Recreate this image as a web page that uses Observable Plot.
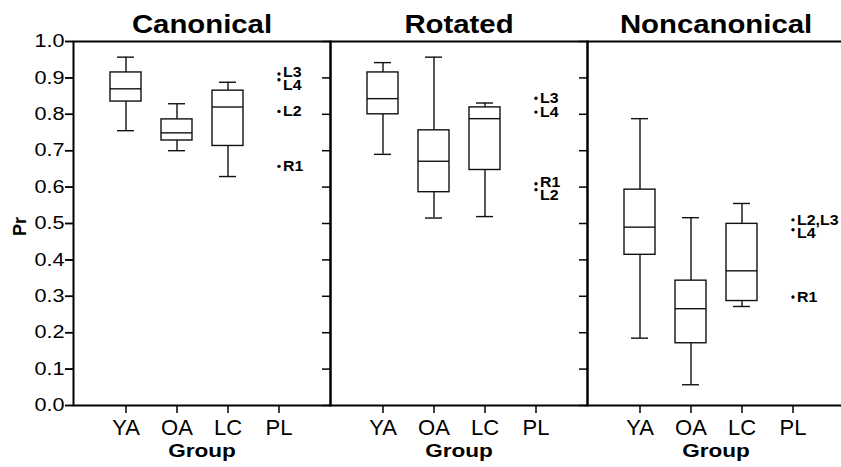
<!DOCTYPE html>
<html>
<head>
<meta charset="utf-8">
<script src="https://cdn.jsdelivr.net/npm/d3@7"></script>
<script src="https://cdn.jsdelivr.net/npm/@observablehq/plot@0.6"></script>
<style>
html, body { margin: 0; padding: 0; background: #fff; overflow: hidden; }
#chart { width: 841px; height: 467px; overflow: hidden; }
#chart svg { max-width: none !important; }
</style>
</head>
<body>
<div id="chart"></div>
<script>
// ---- data ----
const conditions = ["Canonical", "Rotated", "Noncanonical"];
const groups = ["YA", "OA", "LC", "PL"];
const boxGroups = ["YA", "OA", "LC"];
const yTicks = [0, 0.1, 0.2, 0.3, 0.4, 0.5, 0.6, 0.7, 0.8, 0.9, 1.0];

// [lower whisker, Q1, median, Q3, upper whisker] for YA, OA, LC
const canonicalStats = [
  [0.755, 0.835, 0.870, 0.915, 0.957],
  [0.700, 0.728, 0.749, 0.786, 0.829],
  [0.629, 0.713, 0.820, 0.865, 0.888]
];
const rotatedStats = [
  [0.690, 0.800, 0.843, 0.915, 0.942],
  [0.515, 0.586, 0.671, 0.756, 0.957],
  [0.519, 0.647, 0.788, 0.819, 0.831]
];
const noncanonicalStats = [
  [0.185, 0.414, 0.490, 0.593, 0.788],
  [0.057, 0.171, 0.266, 0.343, 0.516],
  [0.272, 0.287, 0.370, 0.499, 0.555]
];

// individual patients (PL group)
const canonicalPatients = ["L3", "L4", "L2", "R1"];
const canonicalPatientValues = [0.911, 0.895, 0.808, 0.657];
const rotatedPatients = ["L3", "L4", "R1", "L2"];
const rotatedPatientValues = [0.844, 0.806, 0.609, 0.593];
const noncanonicalPatients = ["L2,L3", "L4", "R1"];
const noncanonicalPatientValues = [0.510, 0.483, 0.298];

// ---- build tables ----
const allStats = [canonicalStats, rotatedStats, noncanonicalStats];
const allPatients = [canonicalPatients, rotatedPatients, noncanonicalPatients];
const allPatientValues = [canonicalPatientValues, rotatedPatientValues, noncanonicalPatientValues];

const boxes = [];
conditions.forEach((c, ci) => allStats[ci].forEach((s, gi) => boxes.push({
  condition: c, group: boxGroups[gi], lo: s[0], q1: s[1], med: s[2], q3: s[3], hi: s[4]
})));

// label placement: spread labels of near-coincident points apart
const minSep = 0.0376, shift = -0.0055;
const points = [];
conditions.forEach((c, ci) => {
  const vals = allPatientValues[ci];
  allPatients[ci].forEach((lab, i) => {
    const v = vals[i];
    let ly = v;
    vals.forEach((w, j) => {
      if (j === i) return;
      const gap = Math.abs(v - w);
      if (gap < minSep) {
        const mid = (v + w) / 2;
        ly = (v > w ? mid + minSep / 2 : mid - minSep / 2) + shift;
      }
    });
    points.push({condition: c, group: "PL", label: lab, value: v, labelY: ly});
  });
});

const ink = "#111";
const chart = Plot.plot({
  width: 845,
  height: 467,
  marginLeft: 72,
  marginRight: 0,
  marginTop: 41,
  marginBottom: 62,
  style: {fontFamily: "'Liberation Sans', Arial, sans-serif", background: "white", color: "black"},
  fx: {domain: conditions, padding: 0, axis: null, label: null},
  x: {domain: groups, paddingInner: 0.4, paddingOuter: 0.7},
  y: {domain: [0, 1]},
  marks: [
    Plot.axisY({ticks: yTicks, tickFormat: () => "", tickSize: 8, facetAnchor: null, label: null, strokeWidth: 1.5}),
    Plot.axisY({ticks: yTicks, tickFormat: d3.format(".1f"), tickSize: 8, tickPadding: 1, fontSize: 18, label: null, strokeWidth: 1.5}),
    Plot.axisX({tickSize: 8, tickPadding: 6, fontSize: 22, label: null, strokeWidth: 1.5}),
    Plot.ruleX(boxes, {fx: "condition", x: "group", y1: "lo", y2: "q1", stroke: ink, strokeWidth: 1.4}),
    Plot.ruleX(boxes, {fx: "condition", x: "group", y1: "q3", y2: "hi", stroke: ink, strokeWidth: 1.4}),
    Plot.tickY(boxes, {fx: "condition", x: "group", y: "lo", insetLeft: 7, insetRight: 7, stroke: ink, strokeWidth: 1.4}),
    Plot.tickY(boxes, {fx: "condition", x: "group", y: "hi", insetLeft: 7, insetRight: 7, stroke: ink, strokeWidth: 1.4}),
    Plot.barY(boxes, {fx: "condition", x: "group", y1: "q1", y2: "q3", fill: "white", stroke: ink, strokeWidth: 1.4}),
    Plot.tickY(boxes, {fx: "condition", x: "group", y: "med", stroke: ink, strokeWidth: 1.4}),
    Plot.dot(points, {fx: "condition", x: "group", y: "value", r: 1.7, fill: "black", stroke: null}),
    Plot.text(points, {fx: "condition", x: "group", y: "labelY", text: "label", textAnchor: "start", lineAnchor: "middle", dx: 4,
      fontSize: 15, fontWeight: "bold", fill: "black"}),
    Plot.text(conditions, {fx: d => d, text: d => d, frameAnchor: "top", textAnchor: "middle", lineAnchor: "middle", dy: -17,
      fontSize: 25.5, fontWeight: "bold", fill: "black"}),
    Plot.text(conditions, {fx: d => d, text: () => "Group", frameAnchor: "bottom", textAnchor: "middle", lineAnchor: "middle", dy: 46,
      fontSize: 18.5, fontWeight: "bold", fill: "black"}),
    Plot.text([conditions[0]], {fx: d => d, text: () => "Pr", frameAnchor: "left", textAnchor: "middle", lineAnchor: "middle",
      rotate: -90, dx: -53, dy: 3, fontSize: 18, fontWeight: "bold", fill: "black"}),
    Plot.frame({stroke: "black", strokeWidth: 2})
  ]
});
document.getElementById("chart").appendChild(chart);

// widen glyphs to match the reference's proportions
const patientLabels = new Set([].concat(...allPatients));
chart.querySelectorAll("text").forEach(t => {
  const s = t.textContent;
  let f = 1;
  if (/^\d\.\d$/.test(s)) f = 1.2;
  else if (conditions.includes(s)) f = 1.15;
  else if (s === "Group") f = 1.22;
  else if (patientLabels.has(s)) f = 1.06;
  if (f !== 1) {
    const len = t.getComputedTextLength();
    if (len > 0) {
      t.setAttribute("textLength", (len * f).toFixed(2));
      t.setAttribute("lengthAdjust", "spacingAndGlyphs");
    }
  }
});
</script>
</body>
</html>
